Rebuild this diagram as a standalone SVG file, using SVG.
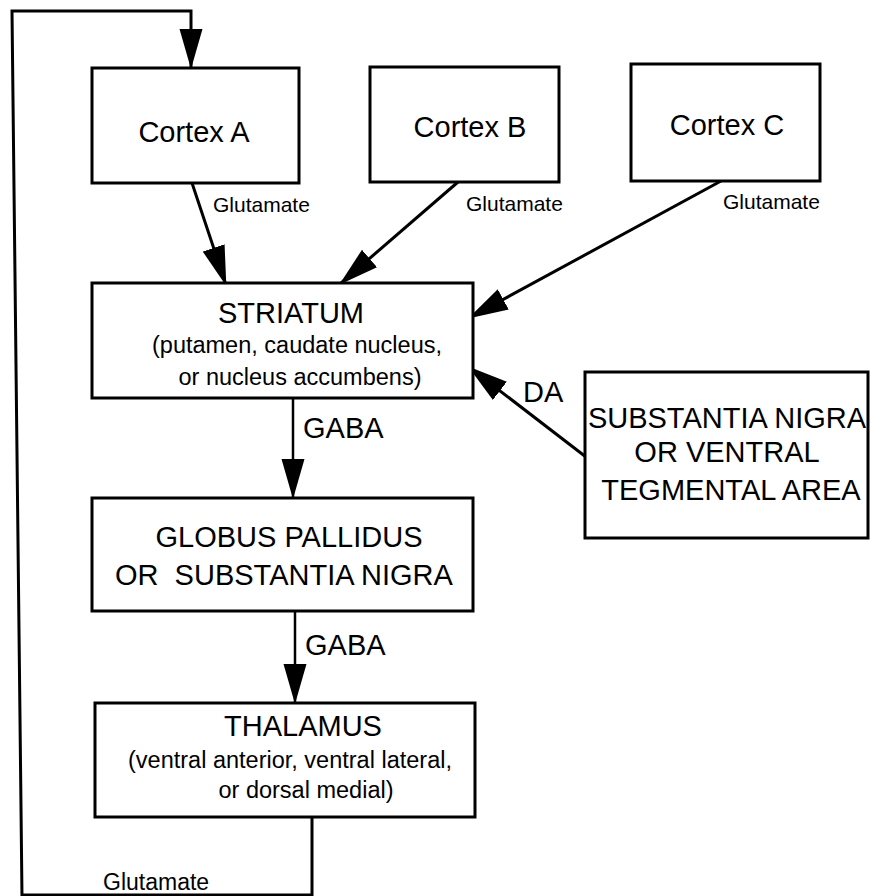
<svg xmlns="http://www.w3.org/2000/svg" width="873" height="896" viewBox="0 0 873 896">
<style>
.box{fill:#fff;stroke:#000;stroke-width:3}
.t{font-family:"Liberation Sans",Arial,sans-serif;fill:#000}
.big{font-size:29px}
.mid{font-size:23.5px}
.sm{font-size:21px}
.c{text-anchor:middle}
.ln{fill:none;stroke:#000;stroke-width:3}
.ln2{fill:none;stroke:#000;stroke-width:2.5}
</style>
<defs>
<marker id="ah" markerUnits="userSpaceOnUse" markerWidth="40" markerHeight="24" refX="39" refY="11.5" orient="auto" viewBox="0 0 40 23">
<path d="M0,0 L40,11.5 L0,23 Z" fill="#000"/>
</marker>
</defs>
<rect width="873" height="896" fill="#fff"/>
<g id="connectors">
<path class="ln" d="M22,896 L12,11 L191,11 L191,68" marker-end="url(#ah)"/>
<line class="ln" x1="192" y1="183" x2="226" y2="285" marker-end="url(#ah)"/>
<line class="ln" x1="458" y1="182" x2="340" y2="284" marker-end="url(#ah)"/>
<line class="ln" x1="721" y1="181" x2="469" y2="318" marker-end="url(#ah)"/>
<line class="ln" x1="586" y1="457" x2="469" y2="367" marker-end="url(#ah)"/>
<line class="ln2" x1="293" y1="398" x2="293" y2="498" marker-end="url(#ah)"/>
<line class="ln2" x1="295" y1="611" x2="295" y2="703" marker-end="url(#ah)"/>
<path class="ln" d="M312,817 L312,895 L22,895"/>
<text class="t sm" x="213" y="212">Glutamate</text>
<text class="t sm" x="466" y="211">Glutamate</text>
<text class="t sm" x="723" y="209">Glutamate</text>
<text class="t big" x="303" y="438">GABA</text>
<text class="t big" x="523" y="402">DA</text>
<text class="t big" x="305" y="655">GABA</text>
<text class="t" style="font-size:23px" x="103" y="890">Glutamate</text>
</g>
<g id="cortexA">
<rect class="box" x="92" y="68" width="207" height="115"/>
<text class="t big c" x="194" y="142">Cortex A</text>
</g>
<g id="cortexB">
<rect class="box" x="370" y="67" width="189" height="115"/>
<text class="t big c" x="470" y="137">Cortex B</text>
</g>
<g id="cortexC">
<rect class="box" x="631" y="64" width="189" height="117"/>
<text class="t big c" x="727" y="135">Cortex C</text>
</g>
<g id="striatum">
<rect class="box" x="92" y="283" width="381" height="115"/>
<text class="t big c" x="291" y="323">STRIATUM</text>
<text class="t mid c" x="297" y="353">(putamen, caudate nucleus,</text>
<text class="t mid c" x="300" y="385">or nucleus accumbens)</text>
</g>
<g id="substantiaNigraVTA">
<rect class="box" x="585" y="372" width="283" height="166"/>
<text class="t big c" x="727" y="428">SUBSTANTIA NIGRA</text>
<text class="t big c" x="727" y="462">OR VENTRAL</text>
<text class="t big c" x="731" y="500">TEGMENTAL AREA</text>
</g>
<g id="globusPallidus">
<rect class="box" x="92" y="498" width="381" height="113"/>
<text class="t big c" x="289" y="547">GLOBUS PALLIDUS</text>
<text class="t big" x="115" y="585" xml:space="preserve">OR  SUBSTANTIA NIGRA</text>
</g>
<g id="thalamus">
<rect class="box" x="95" y="703" width="380" height="114"/>
<text class="t big c" x="303" y="736">THALAMUS</text>
<text class="t mid c" x="290" y="768">(ventral anterior, ventral lateral,</text>
<text class="t mid c" x="306" y="798">or dorsal medial)</text>
</g>
</svg>
